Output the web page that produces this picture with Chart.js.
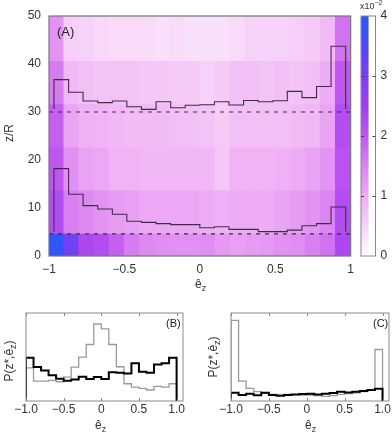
<!DOCTYPE html>
<html><head><meta charset="utf-8">
<script src="https://cdn.jsdelivr.net/npm/chart.js@4.4.0/dist/chart.umd.min.js"></script>
<style>
html,body{margin:0;padding:0;background:#fff;width:392px;height:433px;overflow:hidden;font-family:"Liberation Sans",Arial,sans-serif;color:#333}
canvas{position:absolute}
.t{position:absolute;font-size:12px;line-height:14px;white-space:nowrap;color:#333}
.r{transform:translate(-50%,-50%) rotate(-90deg)}
sub{font-size:9px;vertical-align:-3px;line-height:0}
sup{font-size:7px;vertical-align:4px;line-height:0}
</style></head><body>
<canvas id="main" width="360" height="300" style="left:0;top:0"></canvas>
<canvas id="cbar" width="42" height="300" style="left:350px;top:0"></canvas>
<canvas id="pb" width="196" height="133" style="left:0;top:300px"></canvas>
<canvas id="pc" width="187" height="133" style="left:205px;top:300px"></canvas>
<div class="t r" style="left:9px;top:133px">z/R</div>
<div class="t" style="left:195px;top:277px">ê<sub>z</sub></div>
<div class="t" style="left:57px;top:25px;font-size:13px;color:#222">(A)</div>
<div class="t" style="left:360px;top:1px;font-size:9px;line-height:11px">x10<sup>−2</sup></div>
<div class="t" style="left:166px;top:316px;font-size:11px;color:#222">(B)</div>
<div class="t" style="left:373px;top:316px;font-size:11px;color:#222">(C)</div>
<div class="t" style="left:95px;top:418px">ê<sub>z</sub></div>
<div class="t" style="left:305px;top:418px">ê<sub>z</sub></div>
<div class="t r" style="left:9px;top:361px">P(z*,ê<sub>z</sub>)</div>
<div class="t r" style="left:213px;top:357px">P(z*,ê<sub>z</sub>)</div>
<script>
// ---------- data ----------
const colCenters = [-0.95,-0.85,-0.75,-0.65,-0.55,-0.45,-0.35,-0.25,-0.15,-0.05,0.05,0.15,0.25,0.35,0.45,0.55,0.65,0.75,0.85,0.95];
const rowEdges = [0,4.5,13.5,22.5,31.5,40.5,50];
const heatRow0 = [3.9,3.1,2.3,2.2,1.9,1.6,1.45,1.4,1.35,1.35,1.4,1.25,1.15,1.2,1.25,1.35,1.4,1.55,1.7,2.3];
const heatRow1 = [2.2,1.55,1.45,1.3,1.2,1.15,1.05,1.05,1.05,1.05,1.0,0.95,1.0,1.0,1.0,1.1,1.2,1.3,1.5,2.2];
const heatRow2 = [2.0,1.35,1.1,1.05,0.9,0.9,0.85,0.85,0.85,0.85,0.85,0.65,0.9,0.9,0.9,0.95,1.0,1.1,1.3,2.1];
const heatRow3 = [1.9,1.1,0.95,0.9,0.85,0.8,0.8,0.8,0.75,0.75,0.7,0.6,0.75,0.75,0.75,0.75,0.8,0.85,1.1,2.2];
const heatRow4 = [1.6,0.85,0.75,0.7,0.7,0.7,0.65,0.65,0.6,0.6,0.5,0.6,0.75,0.75,0.7,0.75,0.7,0.75,1.0,2.0];
const heatRow5 = [1.3,0.55,0.5,0.45,0.4,0.4,0.4,0.35,0.4,0.35,0.35,0.35,0.4,0.5,0.5,0.5,0.55,0.6,0.8,1.7];
const heatRows = [heatRow0,heatRow1,heatRow2,heatRow3,heatRow4,heatRow5];

const stepEdges = [-0.967,-0.870,-0.774,-0.677,-0.580,-0.484,-0.387,-0.290,-0.193,-0.097,0,0.097,0.193,0.290,0.387,0.484,0.580,0.677,0.774,0.870,0.967];
const upperLine = [36.75,34.1,32.3,31.95,32.3,31.1,30.55,32.15,30.9,31.4,31.5,32.15,31.45,32.4,32.15,32.35,34.3,33.0,35.3,43.7];
const upperBase = 30.7;
const lowerLine = [18.2,12.85,10.5,9.8,8.7,7.23,7.0,6.74,6.53,6.53,5.9,6.1,5.55,5.55,5.07,5.07,5.4,6.3,6.74,10.2];
const lowerBase = 5.1;
const dashLevels = [30, 4.6];

const mainXTicks = [-1,-0.5,0,0.5,1];
const mainYTicks = [0,10,20,30,40,50];
const cbarTicks = [0,1,2,3,4];
const cmapVals = [0,0.5,1,1.5,2,2.5,3,3.5,4];
const cmapColors = ['#ffffff','#f7d2f8','#eeacf5','#dc84f2','#c056f0','#a03ef2','#7840f2','#5048f6','#2858f8'];

const binEdges = [-1,-0.9,-0.8,-0.7,-0.6,-0.5,-0.4,-0.3,-0.2,-0.1,0,0.1,0.2,0.3,0.4,0.5,0.6,0.7,0.8,0.9,1];
const bBlack = [0.491,0.385,0.347,0.294,0.253,0.230,0.245,0.275,0.249,0.272,0.249,0.328,0.321,0.313,0.430,0.332,0.321,0.415,0.430,0.491];
const bGray  = [0.377,0.226,0.226,0.234,0.219,0.272,0.385,0.498,0.642,0.875,0.819,0.642,0.389,0.196,0.158,0.143,0.125,0.166,0.158,0.196];
const cBlack = [0.094,0.068,0.083,0.064,0.094,0.068,0.060,0.068,0.075,0.079,0.083,0.075,0.083,0.091,0.106,0.098,0.106,0.113,0.125,0.140];
const cGray  = [0.917,0.226,0.143,0.106,0.091,0.075,0.068,0.075,0.072,0.068,0.068,0.060,0.053,0.060,0.075,0.083,0.094,0.106,0.121,0.585];
const smallXTicks = [-1,-0.5,0,0.5,1];

// ---------- helpers ----------
const FONT = {family:'"Liberation Sans", Arial, sans-serif', size:12};
const NOGRID = {display:false, drawTicks:false, tickLength:0};
function hex(c){return [parseInt(c.slice(1,3),16),parseInt(c.slice(3,5),16),parseInt(c.slice(5,7),16)];}
function cmap(v){
  if(v<=cmapVals[0]) return cmapColors[0];
  for(let i=1;i<cmapVals.length;i++){
    if(v<=cmapVals[i]){
      const t=(v-cmapVals[i-1])/(cmapVals[i]-cmapVals[i-1]);
      const a=hex(cmapColors[i-1]), b=hex(cmapColors[i]);
      return 'rgb('+a.map((x,k)=>Math.round(x+(b[k]-x)*t)).join(',')+')';
    }
  }
  return cmapColors[cmapColors.length-1];
}
function stepPts(edges, vals, base){
  const p=[{x:edges[0],y:base}];
  vals.forEach((v,i)=>{p.push({x:edges[i],y:v});p.push({x:edges[i+1],y:v});});
  p.push({x:edges[edges.length-1],y:base});
  return p;
}
function fmt(v){ if(v===0) return '0'; return (v<0?'\u2212':'')+Math.abs(v); }
function fmt1(v){ if(v===0) return '0'; return (v<0?'\u2212':'')+Math.abs(v).toFixed(1); }
const framePlugin = (color,width)=>({id:'frame',afterDatasetsDraw(chart){
  const {ctx,chartArea:a}=chart; ctx.save(); ctx.strokeStyle=color; ctx.lineWidth=width;
  ctx.strokeRect(a.left,a.top,a.right-a.left,a.bottom-a.top); ctx.restore();}});
const innerTicks = {id:'innerTicks',afterDatasetsDraw(chart){
  const {ctx,chartArea:a}=chart, x=chart.scales.x; ctx.save(); ctx.strokeStyle='#888'; ctx.lineWidth=1;
  smallXTicks.forEach(v=>{const px=Math.round(x.getPixelForValue(v))+0.5; ctx.beginPath();
    ctx.moveTo(px,a.top);ctx.lineTo(px,a.top+3);ctx.moveTo(px,a.bottom);ctx.lineTo(px,a.bottom-3);ctx.stroke();});
  ctx.restore();}};
const base = {responsive:false, animation:false, devicePixelRatio:1, events:[],
  plugins:{legend:{display:false},tooltip:{enabled:false}}};

// ---------- main heat map ----------
const heatSets = heatRows.map((row,r)=>({
  type:'bar', order:2,
  data: colCenters.map(x=>({x, y:[rowEdges[r],rowEdges[r+1]]})),
  backgroundColor: row.map(cmap), borderWidth:0, borderSkipped:false,
  barPercentage:1, categoryPercentage:1, grouped:false, inflateAmount:0.6
}));
const lineStyle = {type:'line', order:0, pointRadius:0, fill:false, tension:0, borderColor:'#3a3042', borderWidth:1.1};
const mainSets = heatSets.concat([
  Object.assign({data:stepPts(stepEdges,upperLine,upperBase)}, lineStyle),
  Object.assign({data:stepPts(stepEdges,lowerLine,lowerBase)}, lineStyle),
  ...dashLevels.map(l=>Object.assign({data:[{x:-1,y:l},{x:1,y:l}]}, lineStyle, {borderDash:[4,5], borderWidth:1.2}))
]);
new Chart(document.getElementById('main'),{
  type:'bar', data:{datasets:mainSets},
  options:Object.assign({}, base, {
    layout:{padding:{left:0,right:7,top:16,bottom:0}},
    scales:{
      x:{type:'linear',min:-1,max:1,offset:false,grid:NOGRID,border:{display:false},
         afterBuildTicks:s=>{s.ticks=mainXTicks.map(v=>({value:v}));},
         afterFit:s=>{s.height=44;},
         ticks:{font:FONT,color:'#333',padding:6,maxRotation:0,callback:v=>fmt(v)}},
      y:{type:'linear',min:0,max:50,grid:NOGRID,border:{display:false},
         afterBuildTicks:s=>{s.ticks=mainYTicks.map(v=>({value:v}));},
         afterFit:s=>{s.width=49;},
         ticks:{font:FONT,color:'#333',padding:8}}
    }
  }),
  plugins:[framePlugin('#777',1.2)]
});

// ---------- colour bar ----------
const cbarTickMarks = {id:'cbt',afterDatasetsDraw(chart){
  const {ctx,chartArea:a}=chart, y=chart.scales.y; ctx.save(); ctx.strokeStyle='#444'; ctx.lineWidth=1;
  [1,2,3].forEach(v=>{const py=Math.round(y.getPixelForValue(v))+0.5; ctx.beginPath();
    ctx.moveTo(a.left,py);ctx.lineTo(a.left+3,py);ctx.moveTo(a.right,py);ctx.lineTo(a.right-3,py);ctx.stroke();});
  ctx.restore();}};
new Chart(document.getElementById('cbar'),{
  type:'bar',
  data:{labels:['c'],datasets:[{data:[[cbarTicks[0],cbarTicks[cbarTicks.length-1]]],borderWidth:0,borderSkipped:false,
    barPercentage:1,categoryPercentage:1,
    backgroundColor:(c)=>{const ch=c.chart, a=ch.chartArea; if(!a) return '#fff';
      const ys=ch.scales.y; const g=ch.ctx.createLinearGradient(0,ys.getPixelForValue(0),0,ys.getPixelForValue(4));
      const n=40; for(let i=0;i<=n;i++){g.addColorStop(i/n,cmap(4*i/n));} return g;}}]},
  options:Object.assign({}, base, {
    layout:{padding:{left:11,right:0,top:16,bottom:44}},
    scales:{
      x:{display:false,offset:false},
      y:{position:'right',min:0,max:4,grid:NOGRID,border:{display:false},
         afterBuildTicks:s=>{s.ticks=cbarTicks.map(v=>({value:v}));},
         afterFit:s=>{s.width=16.5;},
         ticks:{font:FONT,color:'#333',padding:5}}
    }
  }),
  plugins:[framePlugin('#888',1),cbarTickMarks]
});

// ---------- small panels ----------
function panel(id, black, gray, padL, padR){
  new Chart(document.getElementById(id),{
    type:'line',
    data:{datasets:[
      {data:stepPts(binEdges,black,0),borderColor:'#000',borderWidth:2,pointRadius:0,fill:false,tension:0},
      {data:stepPts(binEdges,gray,0),borderColor:'#9a9a9a',borderWidth:1.3,pointRadius:0,fill:false,tension:0}
    ]},
    options:Object.assign({}, base, {
      layout:{padding:{left:padL,right:padR,top:13,bottom:0}},
      scales:{
        x:{type:'linear',min:-1,max:1.085,grid:NOGRID,border:{display:false},
           afterBuildTicks:s=>{s.ticks=smallXTicks.map(v=>({value:v}));},
           afterFit:s=>{s.height=32;},
           ticks:{font:FONT,color:'#333',padding:1,maxRotation:0,callback:v=>fmt1(v)}},
        y:{display:false,min:0,max:1}
      }
    }),
    plugins:[framePlugin('#8a8a8a',1),innerTicks]
  });
}
panel('pb', bBlack, bGray, 26, 13);
panel('pc', cBlack, cGray, 26, 3);
</script>
</body></html>
